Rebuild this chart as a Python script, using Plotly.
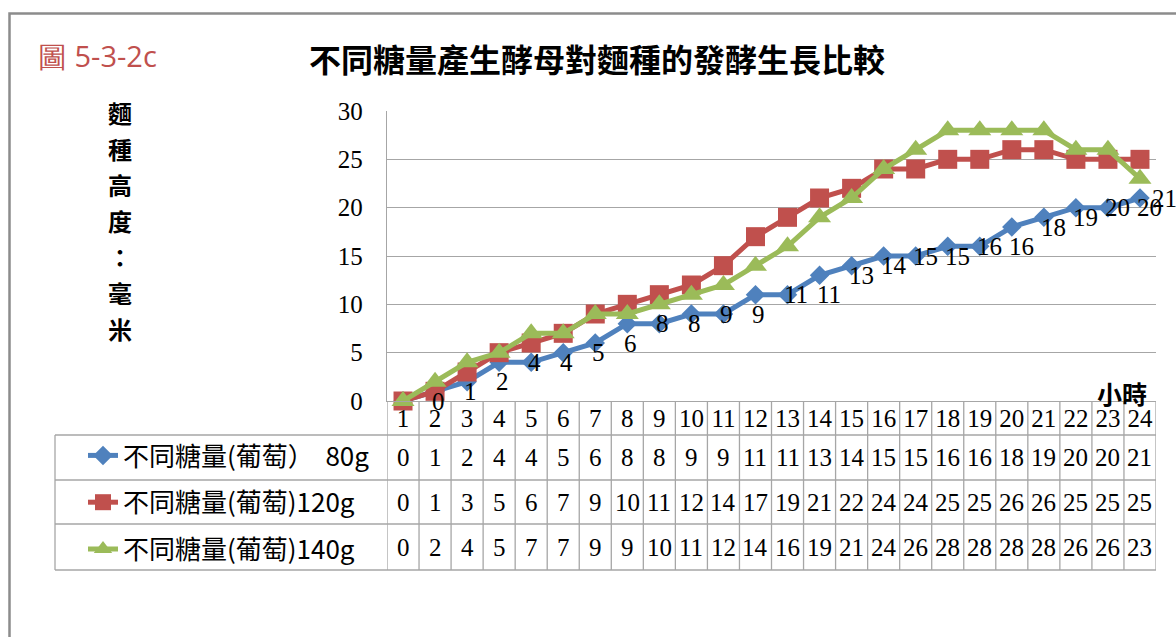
import plotly.graph_objects as go

# ---- data -------------------------------------------------------------
hours = list(range(1, 25))
sugar_80 = [0, 1, 2, 4, 4, 5, 6, 8, 8, 9, 9, 11, 11, 13, 14, 15, 15, 16, 16, 18, 19, 20, 20, 21]
sugar_120 = [0, 1, 3, 5, 6, 7, 9, 10, 11, 12, 14, 17, 19, 21, 22, 24, 24, 25, 25, 26, 26, 25, 25, 25]
sugar_140 = [0, 2, 4, 5, 7, 7, 9, 9, 10, 11, 12, 14, 16, 19, 21, 24, 26, 28, 28, 28, 28, 26, 26, 23]
series_names = ["不同糖量(葡萄）\u00a0\u00a080g", "不同糖量(葡萄)120g", "不同糖量(葡萄)140g"]
y_ticks = [0, 5, 10, 15, 20, 25, 30]

fig_label = "圖 5-3-2c"
title_text = "不同糖量產生酵母對麵種的發酵生長比較"
y_title_chars = ["麵", "種", "高", "度", "：", "毫", "米"]
x_unit = "小時"

# ---- styling ----------------------------------------------------------
series = [sugar_80, sugar_120, sugar_140]
colors = ["#4f81bd", "#c0504d", "#9bbb59"]
symbols = ["diamond", "square", "triangle-up"]
msizes = [15, 19, 20]

W, H = 1176, 637
L, R, T, B = 387, 1156, 111, 401          # plot-area pixel box
GRID = "#a6a6a6"
SERIF = "Liberation Serif"
CJK = "Noto Sans CJK TC"


def px(x):
    return (x - L) / (R - L)


def py(y):
    return (B - y) / (B - T)


fig = go.Figure()
for i, (vals, name) in enumerate(zip(series, series_names)):
    fig.add_trace(go.Scatter(
        x=hours, y=vals, name=name, mode="lines+markers",
        line=dict(color=colors[i], width=5),
        marker=dict(symbol=symbols[i], size=msizes[i], color=colors[i]),
        legendgroup=str(i), cliponaxis=False, hoverinfo="skip",
    ))

annotations = []
# figure number and title
annotations.append(dict(text=fig_label, x=px(36), y=py(55), xref="paper", yref="paper",
                        xanchor="left", yanchor="middle", showarrow=False,
                        font=dict(family="Open Sans", size=29, color="#c0504d")))
annotations.append(dict(text="<b>" + title_text + "</b>", x=px(597), y=py(58),
                        xref="paper", yref="paper", xanchor="center", yanchor="middle",
                        showarrow=False, font=dict(family=CJK, size=32, color="#000")))
# vertical y-axis title, one character per row
for k, ch in enumerate(y_title_chars):
    annotations.append(dict(text="<b>%s</b>" % ch, x=px(120), y=py(112 + 36 * k),
                            xref="paper", yref="paper", xanchor="center",
                            yanchor="middle", showarrow=False,
                            font=dict(family=CJK, size=24, color="#000")))
# unit above the last category
annotations.append(dict(text="<b>" + x_unit + "</b>", x=px(1122), y=py(393),
                        xref="paper", yref="paper", xanchor="center", yanchor="middle",
                        showarrow=False, font=dict(family=CJK, size=25, color="#000")))

# data labels for the 80g series, set to the right of each point
cat_w = (R - L) / len(hours)
for h, v in zip(hours, sugar_80):
    cx = L + (h - 0.5) * cat_w
    start = min(cx + 27, 1150)
    annotations.append(dict(text=str(v), x=h, y=v, xref="x", yref="y",
                            xanchor="left", yanchor="middle", xshift=start - cx,
                            showarrow=False,
                            font=dict(family=SERIF, size=25, color="#000")))

# data table under the axis
row_edges = [435, 480, 524, 570]
for r, vals in enumerate(series):
    yc = (row_edges[r] + row_edges[r + 1]) / 2
    for h, v in zip(hours, vals):
        annotations.append(dict(text=str(v), x=h, y=py(yc), xref="x", yref="paper",
                                xanchor="center", yanchor="middle", showarrow=False,
                                font=dict(family=SERIF, size=25, color="#000")))

shapes = []
# outer chart frame
shapes.append(dict(type="rect", xref="paper", yref="paper",
                   x0=px(9.5), y0=py(13.5), x1=px(1190), y1=py(660),
                   line=dict(color="#8c8c8c", width=2.5)))
# table horizontal rules
for ye in row_edges:
    shapes.append(dict(type="line", xref="paper", yref="paper",
                       x0=px(55), x1=1, y0=py(ye), y1=py(ye),
                       line=dict(color=GRID, width=1.3)))
# legend column left edge
shapes.append(dict(type="line", xref="paper", yref="paper",
                   x0=px(55), x1=px(55), y0=py(row_edges[0]), y1=py(row_edges[-1]),
                   line=dict(color=GRID, width=1.3)))
# category column dividers through header row and body
for k in range(len(hours) + 1):
    shapes.append(dict(type="line", xref="x", yref="paper",
                       x0=k + 0.5, x1=k + 0.5, y0=0, y1=py(row_edges[-1]),
                       line=dict(color=GRID, width=1.3)))

fig.update_layout(
    width=W, height=H,
    margin=dict(l=L, r=W - R, t=T, b=H - B, pad=0),
    paper_bgcolor="white", plot_bgcolor="white",
    showlegend=True,
    legend=dict(x=px(83), y=py(row_edges[0] - 3), xanchor="left", yanchor="top",
                traceorder="grouped", tracegroupgap=10,
                font=dict(family=CJK, size=26, color="#000"),
                bgcolor="rgba(0,0,0,0)", itemwidth=30),
    xaxis=dict(range=[0.5, 24.5], tickvals=hours, ticktext=[str(h) for h in hours],
               showgrid=False, zeroline=False, showline=True, linecolor=GRID,
               linewidth=1.3, ticks="", tickfont=dict(family=SERIF, size=25, color="#000"),
               ticklabelstandoff=-5, fixedrange=True),
    yaxis=dict(range=[0, 30], tickvals=y_ticks, showgrid=True, gridcolor=GRID,
               gridwidth=1.3, zeroline=False, showline=True, linecolor=GRID,
               linewidth=1.3, ticks="", ticklabelstandoff=18,
               tickfont=dict(family=SERIF, size=25, color="#000"), fixedrange=True),
    annotations=annotations,
    shapes=shapes,
)

fig.write_html("out.html")
